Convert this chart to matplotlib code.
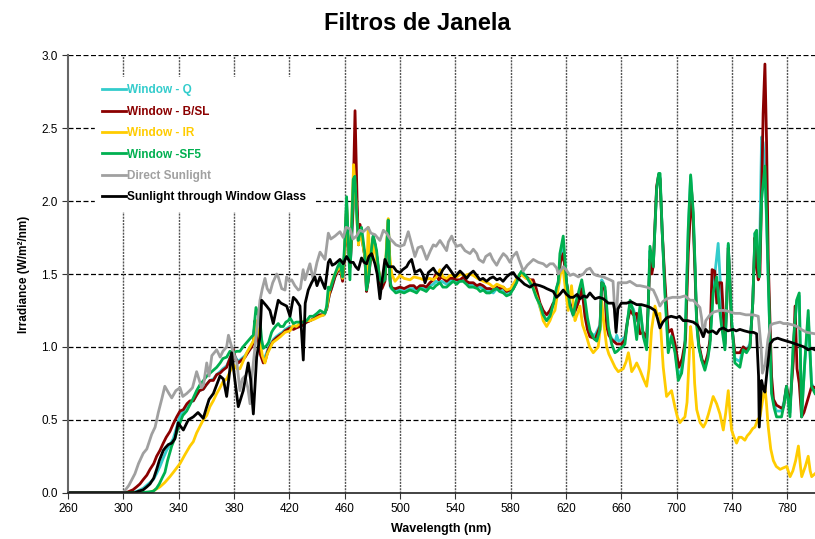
import matplotlib
matplotlib.use("Agg")
import matplotlib.pyplot as plt

plt.rcParams['font.family'] = ['Liberation Sans', 'DejaVu Sans']

# Dados (wavelength nm, irradiance W/m2/nm)
window_q = [
    (260, 0), (306, 0), (310, 0.01), (314.4, 0.03), (318, 0.06), (321.7, 0.09), (324, 0.13), (326.5, 0.18),
    (329, 0.24), (331.3, 0.29), (333.7, 0.33), (336.1, 0.37), (338.6, 0.45), (341, 0.53), (343.4, 0.56),
    (346, 0.60), (348.2, 0.62), (350.6, 0.63), (353, 0.67), (355, 0.70), (357.8, 0.71), (360, 0.74),
    (362.6, 0.77), (365.1, 0.78), (367.5, 0.81), (369.9, 0.83), (372, 0.85), (374.7, 0.87), (377, 0.92),
    (379.5, 0.97), (381, 0.93), (383.1, 0.90), (385.5, 0.92), (388, 0.94), (390, 0.97), (392.8, 1.01),
    (394, 1.04), (395.2, 1.18), (396.5, 1.13), (397.6, 1.06), (399, 0.97), (401.2, 0.92), (402.4, 0.93),
    (404.8, 0.99), (406.5, 1.02), (408.4, 1.05), (410.5, 1.07), (413.2, 1.09), (415, 1.10), (417, 1.12),
    (420.5, 1.14), (423, 1.13), (425, 1.14), (427.7, 1.15), (430, 1.16), (432.5, 1.17), (435, 1.18),
    (437, 1.19), (440, 1.21), (442.2, 1.22), (445, 1.22), (447, 1.26), (449, 1.36), (450.5, 1.40),
    (453, 1.48), (455, 1.52), (456.6, 1.55), (458.5, 1.46), (460, 1.64), (461.4, 1.98), (462.5, 1.72),
    (464, 1.55), (466, 1.90), (467.5, 2.20), (469, 1.90), (470, 1.72), (471.1, 1.80), (472.5, 1.74),
    (474.6, 1.62), (475.8, 1.40), (477, 1.48), (478.5, 1.60), (480.6, 1.76), (482, 1.70), (483.5, 1.60),
    (485.5, 1.45), (487, 1.42), (489.1, 1.46), (490.3, 1.68), (491.5, 1.87), (492.3, 1.62), (493, 1.41),
    (495, 1.39), (497, 1.39), (500, 1.39), (503, 1.38), (505, 1.39), (507.2, 1.40), (510, 1.40),
    (512, 1.39), (514.5, 1.41), (517, 1.40), (519, 1.40), (521.6, 1.42), (524.1, 1.43), (526, 1.45),
    (528, 1.44), (530.1, 1.45), (533.7, 1.43), (536, 1.45), (538.5, 1.46), (541, 1.45), (543.4, 1.45),
    (546, 1.46), (548, 1.44), (550, 1.43), (553, 1.42), (555.5, 1.41), (557.8, 1.41), (560, 1.40),
    (562.5, 1.38), (565, 1.38), (567.4, 1.37), (570, 1.40), (572, 1.39), (574.7, 1.39), (577, 1.37),
    (579.5, 1.38), (581.9, 1.40), (584.3, 1.45), (586, 1.49), (587.9, 1.51), (589.5, 1.50), (591.5, 1.48),
    (594, 1.45), (596.3, 1.42), (598.5, 1.36), (601.2, 1.27), (603.5, 1.21), (606, 1.18), (608.4, 1.22),
    (610.8, 1.30), (612, 1.31), (614.4, 1.45), (616, 1.60), (618, 1.70), (620.4, 1.44), (622.9, 1.28),
    (625.3, 1.21), (628, 1.28), (630.1, 1.36), (631.5, 1.42), (633.7, 1.27), (635.5, 1.16), (637.3, 1.10),
    (640, 1.08), (641, 1.08), (644.6, 1.15), (645.8, 1.46), (647, 1.44), (648.2, 1.38), (649.4, 1.18),
    (651, 1.10), (653, 1.06), (655.4, 1.03), (656.7, 1.08), (658, 1.04), (660.3, 1.05), (662.6, 1.07),
    (664.5, 1.18), (666.3, 1.30), (668.7, 1.26), (671.1, 1.18), (673.5, 1.26), (675.9, 1.08), (678.3, 1.02),
    (679.5, 1.30), (680.7, 1.66), (682, 1.52), (683.1, 1.55), (685.5, 2.08), (687, 2.18), (688, 2.16),
    (689.5, 1.80), (691.5, 1.40), (693.9, 1.00), (696.3, 1.08), (698.8, 0.98), (701.2, 0.80), (703.6, 0.85),
    (706, 1.02), (708.4, 1.80), (710.1, 2.17), (712, 1.90), (713.5, 1.48), (714.4, 1.18), (716, 1.00),
    (718, 0.92), (720.4, 0.86), (722.5, 0.93), (724.1, 1.05), (726.4, 1.40), (728.2, 1.55), (730, 1.71),
    (731.5, 1.45), (732.5, 1.20), (734.9, 1.00), (736.2, 1.30), (737.3, 1.70), (738.5, 1.45), (739.7, 1.18),
    (742.1, 0.92), (745.7, 0.90), (748.1, 1.00), (750.5, 0.98), (753, 1.02), (755, 1.30), (756.6, 1.78),
    (757.8, 1.70), (759, 1.55), (759.7, 1.50), (761.4, 2.44), (762.5, 2.40), (763.8, 2.20), (765, 1.85),
    (766.2, 1.45), (768.6, 0.70), (770.5, 0.60), (772.2, 0.56), (775.8, 0.56), (777.5, 0.62), (779.4, 0.73),
    (781.9, 0.55), (784.3, 1.00), (786.7, 1.30), (788.6, 1.35), (790.3, 0.53), (792.7, 0.90), (795.1, 1.20),
    (797.5, 0.75), (800, 0.70),
]

window_bsl = [
    (260, 0), (302, 0), (307, 0.02), (309.6, 0.04), (312, 0.06), (314.4, 0.09), (317, 0.12), (319.3, 0.16),
    (322, 0.20), (324.1, 0.25), (326.5, 0.29), (328.9, 0.34), (331, 0.38), (333.7, 0.42), (336, 0.47),
    (338.6, 0.52), (341, 0.56), (343.4, 0.57), (346, 0.61), (348.2, 0.63), (350.6, 0.63), (353, 0.67),
    (355, 0.70), (357.8, 0.71), (360, 0.74), (362.6, 0.77), (365.1, 0.77), (367.5, 0.81), (369.9, 0.82),
    (372, 0.84), (374.7, 0.86), (377, 0.92), (379.5, 0.98), (381, 0.92), (383.1, 0.89), (385.5, 0.91),
    (388, 0.93), (390, 0.96), (392.8, 1.00), (394, 1.03), (395.2, 1.18), (396.5, 1.12), (397.6, 1.05),
    (399, 0.95), (401.2, 0.89), (402.4, 0.90), (404.8, 0.98), (406.5, 1.01), (408.4, 1.04), (410.5, 1.06),
    (413.2, 1.08), (415, 1.09), (417, 1.11), (420.5, 1.13), (423, 1.12), (425, 1.13), (427.7, 1.14),
    (430, 1.15), (432.5, 1.17), (435, 1.18), (437, 1.19), (440, 1.21), (442.2, 1.22), (445, 1.22),
    (447, 1.26), (449, 1.36), (450.5, 1.40), (453, 1.48), (455, 1.52), (456.6, 1.55), (458.5, 1.45),
    (460, 1.62), (461.4, 1.95), (462.5, 1.70), (464, 1.55), (466, 1.95), (467.5, 2.62), (469, 2.00),
    (470, 1.70), (471.1, 1.84), (472.5, 1.75), (474.6, 1.62), (475.8, 1.38), (477, 1.45), (478.5, 1.58),
    (480.6, 1.75), (482, 1.70), (483.5, 1.60), (485.5, 1.44), (487, 1.40), (489.1, 1.45), (490.3, 1.66),
    (491.5, 1.86), (492.3, 1.62), (493, 1.42), (495, 1.40), (497, 1.40), (500, 1.41), (503, 1.40),
    (505, 1.41), (507.2, 1.42), (510, 1.42), (512, 1.40), (514.5, 1.42), (517, 1.42), (519, 1.41),
    (521.6, 1.44), (524.1, 1.46), (526, 1.50), (528, 1.46), (530.1, 1.48), (533.7, 1.45), (536, 1.47),
    (538.5, 1.47), (541, 1.46), (543.4, 1.46), (546, 1.48), (548, 1.45), (550, 1.44), (553, 1.44),
    (555.5, 1.42), (557.8, 1.43), (560, 1.42), (562.5, 1.40), (565, 1.40), (567.4, 1.39), (570, 1.41),
    (572, 1.40), (574.7, 1.41), (577, 1.38), (579.5, 1.39), (581.9, 1.40), (584.3, 1.45), (586, 1.48),
    (587.9, 1.50), (589.5, 1.49), (591.5, 1.48), (594, 1.46), (596.3, 1.46), (598.5, 1.40), (601.2, 1.30),
    (603.5, 1.25), (606, 1.22), (608.4, 1.25), (610.8, 1.30), (612, 1.30), (614.4, 1.44), (616, 1.58),
    (618, 1.64), (620.4, 1.44), (622.9, 1.30), (625.3, 1.22), (628, 1.28), (630.1, 1.34), (631.5, 1.40),
    (633.7, 1.21), (635.5, 1.12), (637.3, 1.07), (640, 1.06), (641, 1.05), (644.6, 1.14), (645.8, 1.44),
    (647, 1.43), (648.2, 1.38), (649.4, 1.14), (651, 1.08), (653, 1.05), (656.7, 1.02), (660.3, 1.02),
    (662.6, 1.05), (664.5, 1.18), (666.3, 1.25), (668.7, 1.22), (671.1, 1.23), (673.5, 1.09), (675.9, 1.10),
    (678.3, 1.06), (679.5, 1.30), (680.7, 1.60), (682, 1.50), (683.1, 1.56), (685.5, 2.10), (687, 2.18),
    (688, 2.15), (689.5, 1.80), (691.5, 1.45), (693.9, 1.10), (696.3, 1.12), (698.8, 1.02), (701.6, 0.86),
    (704, 0.92), (706.4, 1.05), (708.4, 1.65), (710.8, 2.07), (712, 1.85), (713.5, 1.45), (714.4, 1.20),
    (716, 1.02), (718.4, 0.91), (720.4, 0.88), (722.5, 0.95), (724.1, 1.05), (725.6, 1.53), (727.5, 1.52),
    (729, 1.30), (730.5, 1.44), (732.5, 1.44), (734.9, 1.02), (736.2, 1.32), (737.3, 1.68), (738.5, 1.45),
    (739.7, 1.15), (742.1, 0.96), (745.7, 0.96), (748.1, 1.00), (750.5, 0.98), (753, 1.00), (755, 1.30),
    (756.6, 1.75), (757.8, 1.55), (759, 1.46), (760.2, 1.50), (761.4, 2.05), (762.5, 2.60), (763.8, 2.94),
    (765, 2.40), (766.2, 1.60), (768.6, 0.80), (770, 0.64), (772.2, 0.60), (775.8, 0.58), (777.3, 0.59),
    (779.4, 0.73), (781.9, 0.60), (784.3, 0.90), (785.6, 1.28), (787, 0.85), (788.6, 0.75), (790.3, 0.52),
    (792, 0.55), (795.1, 0.65), (797.6, 0.73), (800, 0.72),
]

window_ir = [
    (260, 0), (316, 0), (319.3, 0.0), (323, 0.02), (326.5, 0.04), (330, 0.07), (333.7, 0.11), (337, 0.15),
    (341, 0.20), (344.5, 0.26), (348.2, 0.32), (350.6, 0.35), (353, 0.41), (357.8, 0.50), (360.3, 0.53),
    (362.6, 0.59), (365, 0.63), (367.5, 0.68), (369.9, 0.72), (372, 0.76), (374.7, 0.78), (377.1, 0.83),
    (379.5, 0.88), (382, 0.85), (384.3, 0.85), (386.5, 0.90), (389.2, 0.96), (391, 0.99), (394, 1.04),
    (395.9, 1.18), (397.5, 1.10), (398.8, 1.05), (400.5, 0.94), (402.4, 0.89), (404, 0.95), (406, 0.99),
    (408, 1.03), (410.9, 1.05), (413.5, 1.07), (416.9, 1.10), (420.5, 1.11), (422.9, 1.15), (425, 1.14),
    (428.9, 1.17), (432, 1.18), (434.9, 1.18), (438, 1.19), (442.2, 1.21), (445, 1.22), (447, 1.27),
    (449, 1.38), (451, 1.45), (453, 1.50), (455, 1.53), (456.6, 1.56), (458.5, 1.47), (460, 1.65),
    (461.4, 1.98), (462.5, 1.72), (464, 1.55), (465.5, 2.00), (466.5, 2.25), (467.5, 2.10), (469, 1.85),
    (470, 1.70), (471.1, 1.80), (472.5, 1.74), (474.6, 1.62), (475.8, 1.42), (477, 1.82), (478.3, 1.62),
    (480, 1.60), (481, 1.75), (483, 1.60), (485.5, 1.48), (487, 1.44), (489.1, 1.48), (490.3, 1.70),
    (491.5, 1.88), (492.3, 1.65), (494, 1.50), (496.4, 1.45), (500, 1.49), (503, 1.47), (507.2, 1.46),
    (510, 1.48), (514.5, 1.47), (517, 1.46), (521.7, 1.47), (524, 1.46), (526.5, 1.48), (528.9, 1.53),
    (531, 1.48), (533.7, 1.47), (536, 1.49), (538.5, 1.49), (541, 1.48), (544, 1.50), (547, 1.49),
    (550, 1.50), (553, 1.49), (556, 1.47), (560.2, 1.45), (563, 1.44), (565, 1.43), (567.4, 1.41),
    (570, 1.43), (572.3, 1.42), (574.7, 1.41), (577.1, 1.39), (580, 1.40), (582.5, 1.44), (584.5, 1.47),
    (586.7, 1.50), (588.5, 1.49), (591, 1.47), (593.9, 1.46), (596.5, 1.40), (599, 1.34), (601.2, 1.28),
    (603.5, 1.18), (606, 1.14), (608.4, 1.18), (610, 1.22), (612, 1.25), (614.4, 1.40), (616, 1.50),
    (618, 1.53), (619.5, 1.40), (621.6, 1.25), (624, 1.42), (626.5, 1.18), (628, 1.22), (630.1, 1.28),
    (632, 1.15), (634.9, 1.07), (637, 1.00), (639.7, 0.96), (641.5, 0.98), (643.3, 1.00), (645, 1.15),
    (645.8, 1.32), (647.5, 1.15), (649.4, 1.00), (651, 0.95), (653, 0.91), (655.5, 0.86), (657.8, 0.83),
    (659.5, 0.84), (661.4, 0.85), (663.5, 0.90), (665.1, 0.96), (666.3, 0.90), (667.5, 0.83), (669.5, 0.86),
    (671.1, 0.89), (673.5, 0.84), (676, 0.78), (678.3, 0.73), (680, 0.85), (681.9, 1.12), (684.3, 1.28),
    (686, 1.22), (687.9, 1.23), (689, 1.05), (690.3, 0.86), (692.7, 0.66), (694.5, 0.68), (696.3, 0.70),
    (698.7, 0.59), (700.5, 0.52), (702.3, 0.48), (704, 0.50), (706, 0.52), (707.5, 0.62), (708.4, 0.80),
    (710.1, 1.14), (711, 1.05), (712, 0.98), (713, 0.75), (714.5, 0.57), (717, 0.48), (719.3, 0.45),
    (721, 0.48), (723, 0.54), (726.4, 0.66), (728.9, 0.61), (731.3, 0.54), (733.7, 0.43), (735.5, 0.55),
    (737.3, 0.70), (738.5, 0.55), (739.7, 0.43), (741.5, 0.38), (743.3, 0.34), (745, 0.38), (746.9, 0.38),
    (749.3, 0.36), (751, 0.39), (752.9, 0.41), (755, 0.44), (756.6, 0.45), (758.5, 0.50), (760.2, 0.52),
    (761.4, 0.59), (763.8, 0.73), (765, 0.60), (766.2, 0.45), (768, 0.30), (769.9, 0.22), (772, 0.18),
    (774.8, 0.16), (777, 0.17), (779.6, 0.18), (781, 0.14), (782, 0.11), (784, 0.15), (786, 0.22),
    (788, 0.32), (789.5, 0.18), (790.4, 0.11), (793, 0.18), (795.1, 0.25), (796.5, 0.15), (797.6, 0.11),
    (800, 0.13),
]

window_sf5 = [
    (260, 0), (312, 0), (318, 0.005), (321.7, 0.01), (324, 0.03), (326, 0.06), (328, 0.10), (330.1, 0.14),
    (332, 0.22), (335, 0.32), (337.5, 0.38), (339.5, 0.44), (341, 0.48), (343, 0.53), (345.8, 0.56),
    (348, 0.60), (350.6, 0.65), (353, 0.70), (355.4, 0.74), (358, 0.77), (360.3, 0.80), (363.9, 0.83),
    (367.5, 0.86), (370, 0.89), (372, 0.92), (374.7, 0.93), (377.1, 0.97), (379.5, 0.96), (382, 0.97),
    (384.3, 0.97), (386.5, 1.00), (389.2, 1.03), (391, 1.05), (392.8, 1.07), (394, 1.08), (395.9, 1.27),
    (397.5, 1.22), (398.8, 1.18), (400, 1.05), (401.2, 0.99), (403.6, 1.01), (405, 1.03), (407.2, 1.10),
    (408.4, 1.12), (410, 1.14), (412, 1.16), (413.5, 1.14), (415.6, 1.14), (417.5, 1.17), (419.3, 1.18),
    (420.5, 1.20), (422.9, 1.16), (425, 1.17), (427.7, 1.17), (430, 1.17), (432.5, 1.18), (434.9, 1.21),
    (437.3, 1.21), (440, 1.23), (442.2, 1.25), (444, 1.24), (445.8, 1.23), (447, 1.28), (448.2, 1.41),
    (449.4, 1.39), (451, 1.44), (453, 1.50), (455, 1.55), (456.6, 1.58), (458.5, 1.48), (460, 1.70),
    (461.4, 2.03), (462.5, 1.75), (463.8, 1.46), (465, 1.80), (466.2, 2.15), (467.4, 2.17), (468.5, 1.95),
    (469.8, 1.73), (471, 1.78), (472.2, 1.82), (473.5, 1.72), (474.6, 1.64), (475.8, 1.39), (477, 1.45),
    (478.3, 1.57), (479.5, 1.68), (480.6, 1.76), (481.8, 1.72), (483.1, 1.66), (484.3, 1.55), (485.5, 1.46),
    (487, 1.44), (489.1, 1.46), (490.3, 1.66), (491.5, 1.87), (492.2, 1.66), (492.7, 1.46), (494, 1.40),
    (495.1, 1.39), (497, 1.37), (499.9, 1.38), (503, 1.37), (505, 1.38), (507.2, 1.39), (510, 1.38),
    (512, 1.37), (514.4, 1.40), (517, 1.39), (519, 1.38), (521.6, 1.41), (524, 1.40), (526, 1.42),
    (528.9, 1.44), (531, 1.41), (533.7, 1.41), (536, 1.43), (538.5, 1.45), (541, 1.43), (543, 1.45),
    (545.7, 1.45), (548, 1.43), (550, 1.41), (553, 1.41), (556, 1.40), (558, 1.38), (560.2, 1.39),
    (562.5, 1.37), (565, 1.37), (567.5, 1.39), (569.9, 1.40), (572, 1.38), (574.7, 1.37), (577, 1.35),
    (579.5, 1.36), (582, 1.40), (584.3, 1.44), (586, 1.49), (587.9, 1.52), (589.5, 1.50), (591.5, 1.48),
    (594, 1.44), (596.3, 1.40), (598.5, 1.34), (601.2, 1.29), (603.5, 1.22), (606, 1.18), (608.4, 1.21),
    (611, 1.30), (613.2, 1.41), (614.4, 1.44), (615.6, 1.64), (618, 1.76), (620.4, 1.44), (622.9, 1.28),
    (625.3, 1.22), (627, 1.30), (628.9, 1.37), (631.4, 1.46), (633.8, 1.32), (635.5, 1.20), (637.4, 1.11),
    (640, 1.06), (642.2, 1.04), (644.6, 1.12), (645.8, 1.44), (647, 1.43), (648.2, 1.41), (649.4, 1.28),
    (650.6, 1.14), (653, 1.02), (655.4, 0.96), (657, 0.97), (659, 0.99), (661, 1.00), (662.6, 1.02),
    (664.5, 1.18), (666.3, 1.32), (668.7, 1.24), (670, 1.14), (671.1, 1.05), (673.5, 1.28), (675.9, 1.07),
    (678.3, 0.98), (679.5, 1.30), (680.7, 1.69), (683.1, 1.55), (685.5, 2.08), (687, 2.19), (688, 2.19),
    (689.5, 1.80), (691.5, 1.37), (693.9, 0.96), (696.3, 1.07), (698.8, 0.96), (701.2, 0.77), (703.6, 0.82),
    (706, 1.00), (708.4, 1.82), (710.1, 2.18), (712, 1.92), (713.5, 1.50), (714.4, 1.16), (716, 1.00),
    (718, 0.91), (720.4, 0.84), (722.5, 0.92), (724.1, 1.02), (726.4, 1.37), (728.9, 1.48), (730.8, 1.28),
    (732.5, 1.14), (734.9, 0.98), (736.2, 1.30), (737.3, 1.71), (738.5, 1.45), (739.7, 1.18), (742.1, 0.89),
    (745.7, 0.86), (748.1, 0.98), (750.5, 0.96), (753, 1.00), (755, 1.30), (756.6, 1.78), (757.8, 1.80),
    (759, 1.55), (759.7, 1.48), (761.4, 2.01), (763.8, 2.24), (765, 1.90), (766.2, 1.48), (768.6, 0.68),
    (770.5, 0.58), (772.2, 0.52), (775.8, 0.52), (777.5, 0.60), (779.4, 0.73), (781.9, 0.52), (784.3, 1.02),
    (786.7, 1.32), (788.6, 1.37), (790.3, 0.52), (792.7, 0.91), (795.1, 1.25), (797.5, 0.73), (800, 0.68),
]

direct_sun = [
    (260, 0), (300, 0.0), (304, 0.05), (308.4, 0.13), (311, 0.20), (314.4, 0.27), (317, 0.30), (320.5, 0.40),
    (323, 0.45), (325.3, 0.55), (328, 0.65), (330, 0.73), (333, 0.68), (335, 0.65), (338, 0.70), (341, 0.72),
    (343, 0.66), (345.8, 0.68), (348, 0.70), (350, 0.72), (353, 0.83), (356.6, 0.72), (358, 0.74),
    (360.3, 0.89), (362, 0.80), (364, 0.94), (367.5, 0.98), (370, 0.93), (372, 0.97), (374.7, 1.00),
    (376, 1.08), (379.5, 0.96), (382, 0.90), (384.3, 0.70), (386, 0.78), (388, 0.80), (390, 0.72),
    (391.6, 0.61), (393, 0.80), (395.2, 1.00), (397, 1.15), (398.8, 1.32), (400.5, 1.40), (402.4, 1.47),
    (404, 1.40), (406, 1.37), (408, 1.44), (410.9, 1.50), (412, 1.48), (414.5, 1.40), (416.9, 1.39),
    (418, 1.48), (420, 1.45), (421.7, 1.46), (424, 1.42), (426.5, 1.39), (428, 1.40), (430, 1.53),
    (431.3, 1.46), (434.9, 1.57), (437.3, 1.46), (440, 1.58), (442.2, 1.65), (445.8, 1.60), (448.2, 1.78),
    (450, 1.74), (453, 1.76), (456.6, 1.79), (459, 1.75), (461, 1.82), (463.8, 1.81), (466, 1.74),
    (468.6, 1.76), (471, 1.80), (473.4, 1.79), (477, 1.82), (479, 1.78), (481.9, 1.77), (485.5, 1.73),
    (488, 1.80), (490.3, 1.78), (493, 1.74), (495.1, 1.72), (497, 1.70), (499.9, 1.69), (503, 1.70),
    (506, 1.79), (508, 1.72), (510.8, 1.62), (513, 1.68), (515.7, 1.69), (517, 1.66), (519.3, 1.60),
    (522, 1.66), (524.1, 1.70), (526, 1.69), (528.9, 1.73), (531, 1.70), (533.7, 1.66), (535, 1.72),
    (537.4, 1.76), (539, 1.72), (541, 1.69), (544, 1.70), (547, 1.66), (550.6, 1.64), (553, 1.67),
    (555.5, 1.64), (557, 1.60), (560.2, 1.58), (562, 1.62), (565.1, 1.64), (567, 1.60), (569.9, 1.56),
    (572, 1.60), (574.7, 1.64), (577, 1.62), (579.5, 1.58), (581.5, 1.62), (584.3, 1.65), (586, 1.60),
    (589.1, 1.52), (592, 1.56), (596.4, 1.60), (600, 1.58), (603.6, 1.57), (606, 1.55), (608.4, 1.57),
    (610.8, 1.57), (613.3, 1.54), (614.4, 1.50), (618.1, 1.55), (620, 1.53), (622.9, 1.49), (625.3, 1.50),
    (628.9, 1.48), (632.5, 1.50), (635, 1.53), (637.3, 1.54), (640, 1.50), (642.1, 1.49), (647, 1.48),
    (651.8, 1.46), (654, 1.45), (656, 1.13), (657.8, 1.44), (660, 1.44), (663.8, 1.44), (666.2, 1.45),
    (671.1, 1.42), (673.5, 1.42), (678.3, 1.41), (683.1, 1.39), (685.5, 1.34), (687.9, 1.28), (690, 1.31),
    (692.7, 1.33), (697, 1.34), (702.4, 1.34), (706, 1.35), (709.6, 1.32), (712, 1.32), (716.8, 1.27),
    (718, 1.20), (719.5, 1.07), (721, 1.18), (724.1, 1.22), (727, 1.24), (731.3, 1.25), (735, 1.25),
    (738.5, 1.24), (742, 1.23), (745.7, 1.23), (750, 1.22), (755.4, 1.22), (759, 1.21), (761, 1.00),
    (762, 0.82), (764, 0.88), (766, 1.05), (768, 1.15), (770, 1.16), (774.7, 1.17), (777.2, 1.16),
    (780, 1.16), (784.3, 1.15), (787, 1.14), (790, 1.12), (794, 1.10), (800, 1.09),
]

through_glass = [
    (260, 0), (305, 0), (308.4, 0.0), (311, 0.01), (314.4, 0.02), (317, 0.04), (319.3, 0.06), (322, 0.10),
    (324.1, 0.16), (326, 0.22), (328.9, 0.29), (330.5, 0.31), (332.5, 0.33), (335, 0.34), (337.3, 0.37),
    (339.7, 0.48), (341, 0.46), (343.4, 0.43), (347, 0.50), (350.6, 0.52), (354, 0.55), (357.8, 0.51),
    (360, 0.58), (362, 0.64), (365.1, 0.68), (367.5, 0.74), (369.9, 0.80), (372.3, 0.78), (374.7, 0.66),
    (376.5, 0.80), (378.3, 0.96), (380.7, 0.77), (383.1, 0.59), (386.7, 0.70), (390.3, 0.89), (392, 0.78),
    (394, 0.54), (396.4, 0.93), (398.8, 1.07), (400, 1.32), (403.6, 1.28), (406, 1.25), (408.4, 1.16),
    (412, 1.32), (414, 1.30), (418.1, 1.28), (420.5, 1.21), (422.9, 1.34), (425, 1.32), (427.7, 1.28),
    (430.1, 0.91), (431.5, 1.30), (433.7, 1.39), (436.1, 1.44), (438.5, 1.48), (440, 1.42), (442.2, 1.48),
    (445.8, 1.40), (448.2, 1.58), (449.4, 1.60), (451, 1.56), (453, 1.57), (456.6, 1.60), (459, 1.57),
    (461.4, 1.62), (464, 1.58), (466.2, 1.58), (468, 1.55), (469.9, 1.53), (472.2, 1.61), (474, 1.58),
    (475.9, 1.57), (477.5, 1.62), (479.5, 1.64), (481.9, 1.57), (483.5, 1.50), (485.5, 1.33), (487, 1.45),
    (489.1, 1.60), (491.5, 1.55), (495.2, 1.55), (497.5, 1.52), (500, 1.51), (502, 1.53), (504.8, 1.55),
    (506.5, 1.58), (508.4, 1.60), (510.8, 1.51), (514.5, 1.53), (516.5, 1.50), (518.1, 1.44), (520.5, 1.51),
    (524.1, 1.54), (526, 1.51), (528.9, 1.49), (531, 1.53), (533.7, 1.56), (536.1, 1.53), (539.7, 1.48),
    (543.4, 1.52), (545.5, 1.50), (548.2, 1.47), (550.5, 1.50), (553, 1.52), (555.5, 1.49), (557.8, 1.46),
    (560, 1.47), (562.6, 1.45), (565, 1.47), (567.4, 1.48), (570, 1.46), (572.3, 1.47), (574.5, 1.45),
    (577.1, 1.48), (579.5, 1.50), (581.9, 1.51), (584, 1.48), (586.7, 1.46), (590, 1.43), (593.9, 1.41),
    (597, 1.43), (601.2, 1.42), (604, 1.41), (606, 1.40), (608.4, 1.39), (610.8, 1.38), (613.2, 1.34),
    (615.5, 1.36), (618, 1.39), (620.4, 1.36), (623, 1.34), (625.3, 1.34), (628, 1.36), (630.1, 1.33),
    (633, 1.35), (635, 1.34), (637.3, 1.37), (639, 1.35), (641, 1.33), (644, 1.34), (647, 1.33),
    (650.6, 1.30), (654.2, 1.30), (655, 1.26), (656.2, 1.10), (657.5, 1.26), (660, 1.30), (663.8, 1.30),
    (667, 1.31), (671.1, 1.29), (674.5, 1.29), (678.3, 1.28), (681, 1.27), (684.3, 1.25), (686, 1.20),
    (687.9, 1.13), (690, 1.17), (692.8, 1.20), (696, 1.21), (700, 1.20), (702, 1.21), (704.8, 1.18),
    (708, 1.18), (712, 1.17), (715, 1.15), (717, 1.12), (719.2, 1.07), (721, 1.12), (722.9, 1.10),
    (726, 1.11), (728.9, 1.09), (731, 1.12), (733.7, 1.13), (737, 1.11), (740.9, 1.12), (743, 1.11),
    (745.7, 1.12), (749, 1.11), (753, 1.10), (755.5, 1.10), (757.8, 1.09), (759.2, 0.80), (759.7, 0.45),
    (760.5, 0.60), (761.4, 0.77), (762.5, 0.72), (763.8, 0.69), (765.5, 0.85), (767.5, 1.02), (769.9, 1.05),
    (773, 1.06), (776, 1.05), (779.5, 1.04), (783, 1.03), (786, 1.02), (789.2, 1.01), (792, 1.00),
    (795, 0.98), (797.5, 0.99), (800, 0.98),
]

labels = ["Window - Q", "Window - B/SL", "Window - IR", "Window -SF5",
          "Direct Sunlight", "Sunlight through Window Glass"]
colors = ["#33CCCC", "#8B0000", "#FFCC00", "#00B050", "#A0A0A0", "#000000"]
series = [window_q, window_bsl, window_ir, window_sf5, direct_sun, through_glass]

x_ticks = list(range(260, 800, 40))
y_ticks = [0.0, 0.5, 1.0, 1.5, 2.0, 2.5, 3.0]

fig = plt.figure(figsize=(8.15, 5.39), dpi=100)
ax = fig.add_axes([0.0834, 0.0859, 0.9166, 0.8115])

for data, lab, col in zip(series, labels, colors):
    xs = [p[0] for p in data]
    ys = [p[1] for p in data]
    ax.plot(xs, ys, color=col, lw=2.0, label=lab, solid_joinstyle='round')

ax.set_xlim(260, 800)
ax.set_ylim(0, 3.0)
ax.set_xticks(x_ticks)
ax.set_yticks(y_ticks)
ax.set_yticklabels([f"{v:.1f}" for v in y_ticks])
ax.tick_params(axis='both', labelsize=8.5, direction='out', length=4, width=0.8, color='#333333')

# grade
for v in y_ticks[1:]:
    ax.axhline(v, color='black', lw=0.9, ls=(0, (4, 2)), zorder=0)
for v in x_ticks[1:]:
    ax.axvline(v, color='#555555', lw=1.0, ls=(0, (1.5, 0.8)), zorder=0)

ax.spines['top'].set_visible(False)
ax.spines['right'].set_visible(False)
ax.spines['left'].set_color('#666666')
ax.spines['left'].set_linewidth(1.5)
ax.spines['bottom'].set_color('#222222')
ax.spines['bottom'].set_linewidth(1.2)

ax.set_xlabel("Wavelength (nm)", fontsize=9, fontweight='bold', labelpad=6)
ax.set_ylabel("Irradiance (W/m²/nm)", fontsize=8.5, fontweight='bold', labelpad=8)
fig.text(0.512, 0.957, "Filtros de Janela", ha='center', va='center', fontsize=17, fontweight='bold')

leg = ax.legend(loc='upper left', bbox_to_anchor=(0.036, 0.95), fontsize=8.5, frameon=True,
                facecolor='white', edgecolor='white', framealpha=1, fancybox=False,
                handlelength=2.0, handletextpad=0.1, labelspacing=0.8, borderpad=0.6,
                borderaxespad=0)
for txt, col in zip(leg.get_texts(), colors):
    txt.set_color(col)
    txt.set_fontweight('bold')
leg.set_zorder(5)

fig.savefig("out.png", dpi=100)
